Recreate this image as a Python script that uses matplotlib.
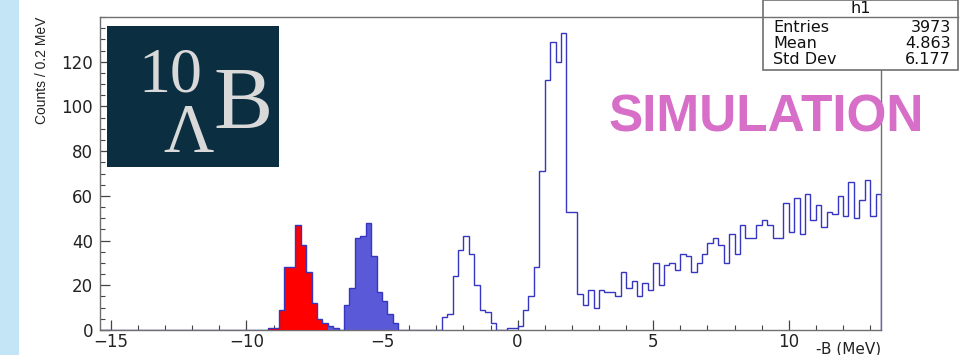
import matplotlib
matplotlib.use("Agg")
import matplotlib.pyplot as plt
from matplotlib.patches import Rectangle
from matplotlib.lines import Line2D
from matplotlib.ticker import MultipleLocator
import numpy as np

# ---------------- data ----------------
bin_width = 0.2
x_min, x_max = -15.4, 13.4
y_max = 140

# total spectrum, one value per 0.2 MeV bin from -15.4 to 13.4
total_counts = [
    0, 0, 0, 0, 0, 0, 0, 0, 0, 0, 0, 0, 0, 0, 0, 0, 0, 0, 0, 0, 0, 0, 0, 0, 0, 0, 0, 0, 0, 0, 0,
    1, 1, 9, 28, 28, 47, 38, 26, 12, 5, 3,
    2, 1, 0, 11, 19, 41, 42, 48, 33, 17, 13, 7, 3,
    0, 0, 0, 0, 0, 0, 0, 0,
    6, 7, 24, 36, 42, 34, 20, 9, 8, 3,
    0, 0,
    1, 1, 2, 9, 15, 28, 71, 112, 129, 120, 133, 53, 53,
    16, 11, 18, 10, 18, 17, 17, 15, 26, 19, 22, 15, 21, 18, 30, 20, 29, 30, 27, 34,
    33, 26, 30, 34, 39, 41, 38, 30, 43, 34, 47, 41, 41, 47, 49, 47, 41, 41, 57, 44,
    59, 43, 61, 49, 56, 46, 53, 52, 60, 51, 66, 50, 58, 67, 51, 61,
]

# ground-state component (red), bins starting at -9.2 MeV
red_start = -9.2
red_counts = [1, 1, 9, 28, 28, 47, 38, 26, 12, 5, 3]

# excited-state component (blue), bins starting at -7.0 MeV
blue_start = -7.0
blue_counts = [2, 1, 0, 11, 19, 41, 42, 48, 33, 17, 13, 7, 3]

x_ticks = [-15, -10, -5, 0, 5, 10]
y_ticks = [0, 20, 40, 60, 80, 100, 120]

stats_labels = ["Entries", "Mean", "Std Dev"]
stats_values = ["3973", "4.863", "6.177"]

# ---------------- figure ----------------
W, H = 963, 355
fig = plt.figure(figsize=(W / 100, H / 100), dpi=100)
fig.patch.set_facecolor("white")

def fx(px):
    return px / W

def fy(py):
    return 1 - py / H

# light blue strip at left
fig.add_artist(Rectangle((0, 0), fx(19), 1, transform=fig.transFigure,
                         facecolor="#c3e5f5", edgecolor="none", zorder=0))

ax = fig.add_axes([fx(100), fy(330), fx(881) - fx(100), fy(17) - fy(330)])

def edges_for(start, n):
    return start + bin_width * np.arange(n + 1)

tot_edges = edges_for(x_min, len(total_counts))
red_edges = edges_for(red_start, len(red_counts))
blue_edges = edges_for(blue_start, len(blue_counts))

line_col = "#3636c0"
ax.stairs(blue_counts, blue_edges, fill=True, color="#5a5ad8", zorder=2)
ax.stairs(red_counts, red_edges, fill=True, color="#ff0000", zorder=3)
ax.stairs(total_counts, tot_edges, color=line_col, linewidth=1.0, zorder=4)

ax.set_xlim(x_min, x_max)
ax.set_ylim(0, y_max)
ax.set_xticks(x_ticks)
ax.set_yticks(y_ticks)
ax.xaxis.set_minor_locator(MultipleLocator(1))
ax.yaxis.set_minor_locator(MultipleLocator(5))
ax.tick_params(which="both", direction="in", colors="#444444", labelcolor="#222222",
               top=False, right=False)
ax.tick_params(which="major", length=7, width=0.9)
ax.tick_params(which="minor", length=3.6, width=0.8)
ax.tick_params(axis="x", labelsize=12, pad=2)
ax.tick_params(axis="y", labelsize=12, pad=5)
for lab in ax.get_xticklabels() + ax.get_yticklabels():
    lab.set_family("DejaVu Sans")
for sp in ax.spines.values():
    sp.set_color("#707070")
    sp.set_linewidth(1.0)

# axis titles
fig.text(fx(42), fy(17), "Counts / 0.2 MeV", rotation=90, ha="center", va="top",
         fontsize=10, family="Liberation Sans", color="#222222")
fig.text(fx(881), fy(341), "-B (MeV)", ha="right", va="top", fontsize=11,
         family="DejaVu Sans", color="#222222")

# stats box
bx0, bx1, by0, by1 = 763, 958, 0, 70
fig.add_artist(Rectangle((fx(bx0), fy(by1)), fx(bx1) - fx(bx0), fy(by0) - fy(by1),
                         transform=fig.transFigure, facecolor="white",
                         edgecolor="#707070", linewidth=1.2, zorder=5))
fig.add_artist(Line2D([fx(bx0), fx(bx1)], [fy(17), fy(17)], transform=fig.transFigure,
                      color="#707070", linewidth=1.0, zorder=6))
fig.text(fx((bx0 + bx1) / 2), fy(8.5), "h1", ha="center", va="center", fontsize=11.5,
         family="DejaVu Sans", color="#111111", zorder=7)
for i, (lab, val) in enumerate(zip(stats_labels, stats_values)):
    yy = fy(28 + 16 * i)
    fig.text(fx(773), yy, lab, ha="left", va="center", fontsize=11.5,
             family="DejaVu Sans", color="#111111", zorder=7)
    fig.text(fx(951), yy, val, ha="right", va="center", fontsize=11.5,
             family="DejaVu Sans", color="#111111", zorder=7)

# hypernucleus logo
fig.add_artist(Rectangle((fx(107), fy(167)), fx(279) - fx(107), fy(26) - fy(167),
                         transform=fig.transFigure, facecolor="#0b2f41",
                         edgecolor="none", zorder=5))
logo_col = "#d9d9d9"
fig.text(fx(170), fy(92), "10", ha="center", va="baseline", fontsize=46,
         family="Liberation Serif", color=logo_col, zorder=6)
fig.text(fx(189), fy(152), "Λ", ha="center", va="baseline", fontsize=50,
         family="Liberation Serif", color=logo_col, zorder=6)
fig.text(fx(243), fy(128), "B", ha="center", va="baseline", fontsize=64,
         family="Liberation Serif", color=logo_col, zorder=6)

# SIMULATION watermark
fig.text(fx(766), fy(132), "SIMULATION", ha="center", va="baseline", fontsize=37,
         fontweight="bold", family="Liberation Sans", color="#d76ec8", zorder=6)

fig.savefig("out.png", dpi=100)
